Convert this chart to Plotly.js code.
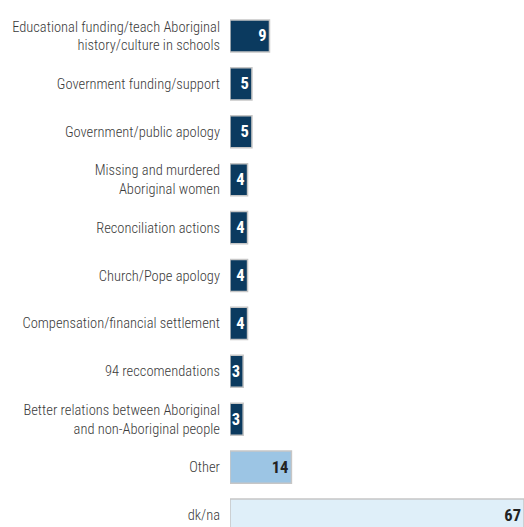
<!DOCTYPE html>
<html>
<head>
<meta charset="utf-8">
<script src="https://cdn.plot.ly/plotly-3.0.1.min.js"></script>
<style>
  html, body { margin: 0; padding: 0; background: #ffffff; }
  #chart { width: 524px; height: 527px; }
</style>
</head>
<body>
<div id="chart"></div>
<script>
const categories = [
  "Educational funding/teach Aboriginal<br>history/culture in schools",
  "Government funding/support",
  "Government/public apology",
  "Missing and murdered<br>Aboriginal women",
  "Reconciliation actions",
  "Church/Pope apology",
  "Compensation/financial settlement",
  "94 reccomendations",
  "Better relations between Aboriginal<br>and non-Aboriginal people",
  "Other",
  "dk/na"
];
const values = [9, 5, 5, 4, 4, 4, 4, 3, 3, 14, 67];
const barColors = ["#0b3a5f", "#0b3a5f", "#0b3a5f", "#0b3a5f", "#0b3a5f", "#0b3a5f", "#0b3a5f", "#0b3a5f", "#0b3a5f", "#9cc5e4", "#dfeff9"];
const textColors = ["#ffffff", "#ffffff", "#ffffff", "#ffffff", "#ffffff", "#ffffff", "#ffffff", "#ffffff", "#ffffff", "#222222", "#222222"];

const FONT = '"Roboto Condensed", "Open Sans Condensed", "DejaVu Sans Condensed", sans-serif';

const trace = {
  type: 'bar',
  orientation: 'h',
  x: values,
  y: categories,
  text: values.map(String),
  textposition: 'inside',
  insidetextanchor: 'end',
  constraintext: 'none',
  textfont: { family: FONT, size: 16.5, color: textColors, weight: 'bold' },
  marker: { color: barColors, line: { color: '#c6c6c6', width: 1.5 } },
  hoverinfo: 'none',
  cliponaxis: true
};

const layout = {
  width: 524,
  height: 527,
  margin: { l: 230, r: 0, t: 12, b: 0, pad: 0 },
  paper_bgcolor: '#ffffff',
  plot_bgcolor: '#ffffff',
  bargap: 0.33,
  showlegend: false,
  font: { family: FONT, size: 14.5, color: '#3a3a3a' },
  xaxis: {
    range: [0, 67],
    visible: false,
    fixedrange: true
  },
  yaxis: {
    type: 'category',
    range: [10.25, -0.5],
    showgrid: false,
    zeroline: false,
    showline: false,
    ticks: '',
    ticklabelstandoff: 9,
    tickfont: { family: FONT, size: 14.5, color: '#3a3a3a', weight: 300 },
    fixedrange: true
  }
};

Plotly.newPlot('chart', [trace], layout, { displayModeBar: false, staticPlot: true });
</script>
</body>
</html>
